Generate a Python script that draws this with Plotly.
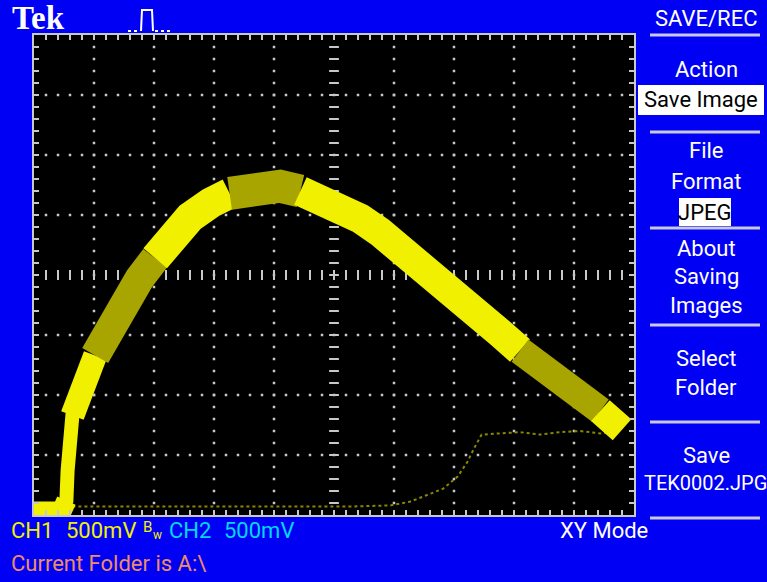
import plotly.graph_objects as go

# ---------------- data (volts; CH1 -> X, CH2 -> Y, 500 mV/div) ----------------
xy_ch1 = [-2.50, -2.27, -2.23, -2.22, -2.20, -2.18, -2.13, -2.07, -1.99, -1.88,
          -1.77, -1.62, -1.49, -1.37, -1.20, -1.03, -0.87, -0.66, -0.45, -0.28,
          -0.12, 0.05, 0.22, 0.38, 0.55, 0.72, 0.88, 1.05, 1.22, 1.38,
          1.55, 1.72, 1.88, 2.05, 2.22, 2.34, 2.40]
xy_ch2 = [-1.97, -1.97, -1.88, -1.63, -1.38, -1.17, -1.00, -0.83, -0.67, -0.46,
          -0.25, -0.03, 0.14, 0.29, 0.48, 0.60, 0.68, 0.74, 0.74, 0.70,
          0.64, 0.57, 0.47, 0.36, 0.23, 0.10, -0.04, -0.19, -0.34, -0.48,
          -0.63, -0.76, -0.89, -1.02, -1.13, -1.23, -1.29]

ref_ch1 = [-2.28, -1.95, -1.53, -1.12, -0.70, -0.28, 0.13, 0.47, 0.63, 0.76,
           0.91, 1.03, 1.11, 1.17, 1.23, 1.38, 1.55, 1.72, 1.88, 2.05, 2.22, 2.32]
ref_ch2 = [-1.93, -1.93, -1.93, -1.93, -1.93, -1.93, -1.93, -1.92, -1.89, -1.84,
           -1.78, -1.68, -1.56, -1.44, -1.33, -1.32, -1.31, -1.33, -1.31, -1.30, -1.32, -1.31]

status_ch1 = "CH1"
status_ch1_scale = "500mV"
status_ch2 = "CH2"
status_ch2_scale = "500mV"
menu_title = "SAVE/REC"

# ---------------- styles ----------------
BLUE = "#0000f5"
BRIGHT = "#f0f000"
OLIVE = "#a8a400"
GRID = "#c8c8c8"
W, H = 767, 582
L, R, T, B = 34, 634, 35, 515
XR = (-2.5, 2.5)
YR = (-2.0, 2.0)
STEP = 0.1


def fx(px):
    return (px - L) / (R - L)


def fy(py):
    return (B - py) / (B - T)


fig = go.Figure()

# graticule dots
gx, gy = [], []
for k in range(1, 10):
    xv = round(XR[0] + 0.5 * k, 3)
    if xv == 0:
        continue
    for j in range(1, 40):
        gx.append(xv)
        gy.append(round(YR[0] + STEP * j, 3))
for k in range(1, 8):
    yv = round(YR[0] + 0.5 * k, 3)
    if yv == 0:
        continue
    for j in range(1, 50):
        gx.append(round(XR[0] + STEP * j, 3))
        gy.append(yv)
fig.add_trace(go.Scatter(x=gx, y=gy, mode="markers", hoverinfo="skip",
                         marker=dict(symbol="square", size=2.5, color=GRID, line=dict(width=0))))
# center-line ticks
cx = [round(XR[0] + STEP * j, 3) for j in range(1, 50)]
fig.add_trace(go.Scatter(x=cx, y=[0] * len(cx), mode="markers", hoverinfo="skip",
                         marker=dict(symbol="line-ns", size=7, line=dict(width=2, color=GRID))))
cy = [round(YR[0] + STEP * j, 3) for j in range(1, 40)]
fig.add_trace(go.Scatter(x=[0] * len(cy), y=cy, mode="markers", hoverinfo="skip",
                         marker=dict(symbol="line-ew", size=7, line=dict(width=2, color=GRID))))

# faint reference trace
fig.add_trace(go.Scatter(x=ref_ch1, y=ref_ch2, mode="lines", hoverinfo="skip",
                         line=dict(color="#8a8800", width=2, dash="dot")))

# XY trace, segment styling (start index, end index, colour, width)
segments = [(0, 2, BRIGHT, 20), (1, 6, BRIGHT, 14), (5, 8, BRIGHT, 24),
            (8, 12, OLIVE, 30), (12, 16, BRIGHT, 31), (16, 19, OLIVE, 33),
            (19, 30, BRIGHT, 30), (30, 34, OLIVE, 28), (34, 36, BRIGHT, 28)]
for s, e, c, w in segments:
    fig.add_trace(go.Scatter(x=xy_ch1[s:e + 1], y=xy_ch2[s:e + 1], mode="lines",
                             hoverinfo="skip", line=dict(color=c, width=w)))

axis_common = dict(showgrid=False, zeroline=False, showticklabels=False,
                   ticks="inside", ticklen=5, tickwidth=2, tickcolor=GRID,
                   dtick=STEP, tick0=0, showline=True, linewidth=2,
                   linecolor=GRID, mirror="allticks", fixedrange=True)
fig.update_xaxes(range=list(XR), **axis_common)
fig.update_yaxes(range=list(YR), **axis_common)

FONT = "Roboto, Liberation Sans, sans-serif"
ann = []


def text(t, px, py, color="white", size=22, anchor="center", family=FONT):
    ann.append(dict(text=t, x=fx(px), y=fy(py), xref="paper", yref="paper",
                    xanchor=anchor, yanchor="middle", showarrow=False,
                    font=dict(family=family, size=size, color=color)))


text("<b>Tek</b>", 10, 18, size=33, anchor="left",
     family="Liberation Serif, DejaVu Serif, serif")
text(menu_title, 706, 19)
text("Action", 706, 70)
text("Save Image", 701, 100, color="black")
text("File", 706, 150)
text("Format", 706, 181)
text("JPEG", 705, 212, color="black")
text("About", 706, 248)
text("Saving", 706, 276)
text("Images", 706, 305)
text("Select", 706, 358)
text("Folder", 706, 387)
text("Save", 706, 455)
text("TEK0002.JPG", 642, 483, size=20, anchor="left")
text("XY Mode", 558, 530, anchor="left")
text(status_ch1, 9, 530, color=BRIGHT, anchor="left")
text(status_ch1_scale, 64, 530, color=BRIGHT, anchor="left")
text("B", 141, 527, color=BRIGHT, size=15, anchor="left")
text("w", 151, 535, color=BRIGHT, size=12, anchor="left")
text(status_ch2, 167, 530, color="#00d8f8", anchor="left")
text(status_ch2_scale, 222, 530, color="#00d8f8", anchor="left")
text("Current Folder is A:\\", 9, 563, color="#ee8c64", anchor="left")

shapes = []
# menu separators
for py in [35, 132, 228, 325, 422, 518]:
    shapes.append(dict(type="line", xref="paper", yref="paper", x0=fx(650), x1=fx(760),
                       y0=fy(py), y1=fy(py), line=dict(color="#c8c8e0", width=3)))
# highlighted option boxes
shapes.append(dict(type="rect", xref="paper", yref="paper", x0=fx(638), x1=fx(764),
                   y0=fy(115), y1=fy(85), fillcolor="white", line=dict(width=0), layer="below"))
shapes.append(dict(type="rect", xref="paper", yref="paper", x0=fx(679), x1=fx(731),
                   y0=fy(226), y1=fy(198), fillcolor="white", line=dict(width=0), layer="below"))
# trigger pulse icon
pulse = "M {} {} L {} {} L {} {} L {} {}".format(fx(141), fy(31), fx(142), fy(10),
                                                  fx(152), fy(10), fx(153), fy(31))
shapes.append(dict(type="path", xref="paper", yref="paper", path=pulse,
                   line=dict(color="white", width=2)))
shapes.append(dict(type="line", xref="paper", yref="paper", x0=fx(128), x1=fx(139),
                   y0=fy(31), y1=fy(31), line=dict(color="white", width=2, dash="dot")))
shapes.append(dict(type="line", xref="paper", yref="paper", x0=fx(155), x1=fx(172),
                   y0=fy(31), y1=fy(31), line=dict(color="white", width=2, dash="dot")))

fig.update_layout(width=W, height=H, paper_bgcolor=BLUE, plot_bgcolor="black",
                  margin=dict(l=L, r=W - R, t=T, b=H - B, pad=0),
                  showlegend=False, annotations=ann, shapes=shapes)

fig.write_html("out.html", config={"displayModeBar": False, "staticPlot": True},
               post_script="document.body.style.margin='0';"
                           "document.body.style.background='" + BLUE + "';")
